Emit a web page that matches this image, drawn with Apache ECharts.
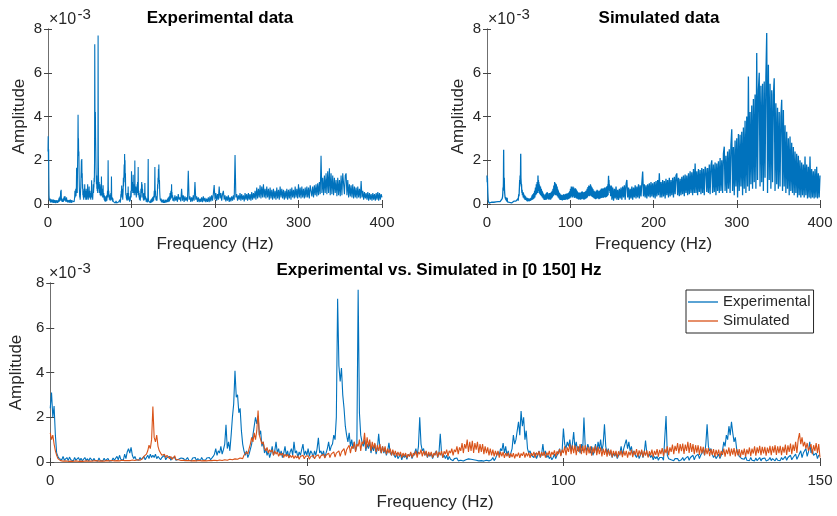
<!DOCTYPE html>
<html><head><meta charset="utf-8">
<script src="https://cdn.jsdelivr.net/npm/echarts@6/dist/echarts.min.js"></script>
<style>html,body{margin:0;padding:0;background:#fff}#c{width:837px;height:516px}</style>
</head><body><div id="c"></div>
<script>
// Amplitudes in units of 1e-3 (axis shows ×10^-3)
// Experimental spectrum, 0–149.75 Hz, 0.25 Hz resolution
const expLow = [
2.4,3.1,2.0,2.5, 1.2,0.4,0.25,0.15, 0.2,0.1,0.25,0.08, 0.15,0.2,0.06,0.22, 0.1,0.18,0.05,0.2,
0.08,0.15,0.2,0.06, 0.17,0.05,0.12,0.2, 0.06,0.15,0.04,0.18, 0.1,0.05,0.16,0.07, 0.14,0.04,0.18,0.06,
0.12,0.05,0.17,0.06, 0.1,0.16,0.05,0.12, 0.06,0.18,0.08,0.13, 0.25,0.1,0.3,0.12, 0.2,0.08,0.35,0.15,
0.45,0.6,0.4,0.65, 0.3,0.15,0.25,0.1, 0.18,0.08,0.2,0.1, 0.15,0.25,0.1,0.2, 0.3,0.15,0.35,0.2,
0.3,0.2,0.35,0.15, 0.25,0.3,0.1,0.2, 0.15,0.3,0.1,0.2, 0.12,0.25,0.08,0.18, 0.1,0.2,0.08,0.15,
0.12,0.06,0.18,0.1, 0.15,0.05,0.12,0.2, 0.08,0.15,0.06,0.18, 0.1,0.2,0.05,0.15, 0.12,0.06,0.2,0.1,
0.15,0.08,0.18,0.1, 0.2,0.1,0.15,0.25, 0.35,0.6,0.3,0.5, 0.4,0.7,0.35,0.55, 0.8,1.66,0.6,0.9,
0.5,1.2,2.0,2.6, 4.08,2.9,3.0,2.2, 2.4,1.4,0.8,0.5, 0.3,0.5,0.2,0.35, 0.4,0.8,1.2,1.6,
2.0,1.7,2.06,1.2, 1.4,0.7,0.9,0.4, 0.6,0.3,0.5,0.2, 0.4,0.7,0.3,0.5, 0.9,0.4,0.6,0.3,
0.5,0.2,0.4,0.7, 0.3,0.5,0.2,0.45, 0.6,0.3,0.9,0.4, 0.5,0.2,0.45,0.3, 0.55,0.8,0.3,0.5,
0.3,0.6,0.25,0.5, 0.4,0.2,0.5,0.3, 0.6,1.08,0.4,0.5, 0.3,0.5,0.2,0.4, 0.6,0.9,0.5,0.7,
0.8,1.2,1.0,2.0, 7.3,4.3,3.6,4.2, 3.0,2.4,1.6,1.2, 0.9,1.3,0.7,1.0, 0.6,0.9,0.5,0.7,
7.7,2.2,1.2,0.9, 0.7,1.0,0.5,0.8, 0.6,0.9,0.4,0.7, 0.5,0.8,0.35,0.6, 1.26,0.6,0.4,0.7,
0.4,0.6,0.3,0.5, 0.86,0.4,0.3,0.5, 0.3,0.2,0.4,0.15, 0.25,0.35,0.1,0.3, 0.2,0.3,0.12,0.35,
0.25,0.4,0.15,0.3, 0.4,0.6,0.3,0.7, 2.0,0.8,0.5,0.6, 0.3,0.45,0.2,0.35, 0.25,0.4,0.15,0.3,
0.3,0.5,0.2,0.4, 1.26,0.4,0.2,0.3, 0.15,0.3,0.1,0.25, 0.12,0.2,0.06,0.15, 0.1,0.18,0.05,0.12,
0.08,0.15,0.04,0.12, 0.1,0.05,0.14,0.06, 0.12,0.04,0.1,0.06, 0.08,0.13,0.05,0.1, 0.06,0.12,0.04,0.1,
0.08,0.15,0.05,0.12, 0.1,0.2,0.06,0.15, 0.2,0.45,0.3,0.6, 0.5,0.85,0.4,0.7, 0.3,0.5,0.2,0.4,
0.6,1.2,0.8,1.0, 1.4,1.8,1.2,2.28, 1.6,2.0,1.0,1.4, 0.6,0.4,0.5,0.3, 0.35,0.2,0.4,0.15,
0.3,0.5,0.2,0.35, 0.8,0.3,0.5,0.2, 0.3,0.15,0.25,0.1, 0.2,0.35,0.15,0.3, 0.4,0.6,0.3,0.5,
1.5,0.8,0.6,0.9, 0.7,1.0,0.5,0.8, 1.34,0.6,0.9,0.5, 0.7,0.4,0.8,0.5, 1.99,0.7,0.5,0.8,
0.6,0.4,0.7,0.3, 0.5,0.8,0.4,0.9, 0.6,1.0,0.5,0.8, 1.69,0.7,0.4,0.6, 0.3,0.5,0.2,0.4,
0.25,0.4,0.15,0.3, 0.4,0.7,0.3,0.6, 0.8,1.0,0.6,0.9, 0.5,0.7,0.3,0.5, 0.3,0.2,0.4,0.15,
0.3,0.5,0.2,0.4, 0.96,0.4,0.25,0.35, 0.2,0.3,0.1,0.25, 0.15,0.25,0.08,0.2, 0.12,0.2,0.08,0.15,
2.06,0.3,0.15,0.2, 0.1,0.18,0.06,0.15, 0.08,0.15,0.05,0.12, 0.1,0.2,0.06,0.15, 0.12,0.25,0.08,0.2,
0.15,0.3,0.1,0.25, 0.2,0.35,0.15,0.3, 0.4,0.6,0.3,0.8, 1.69,0.7,0.5,0.6, 0.35,0.2,0.3,0.15,
0.2,0.35,0.15,0.3, 0.5,0.9,0.7,1.2, 1.0,1.6,1.2,1.8, 1.3,0.9,1.1,0.6, 0.4,0.25,0.3,0.15,
0.2,0.12,0.25,0.08, 0.15,0.06,0.2,0.08, 0.12,0.05,0.18,0.06, 0.1,0.2,0.05,0.15, 0.08,0.18,0.05,0.12,
0.1,0.2,0.06,0.15, 0.12,0.05,0.18,0.08, 0.15,0.06,0.2,0.1, 0.12,0.25,0.08,0.2, 0.15,0.3,0.1,0.2,
0.2,0.35,0.12,0.25, 0.3,0.5,0.2,0.4, 0.35,0.6,0.25,0.45, 0.9,0.4,0.55,0.3, 0.25,0.4,0.15,0.3
];
// Experimental spectrum, 150–400 Hz, 1 Hz resolution
const expHigh = [
0.3,0.12,0.4,0.15,0.35,0.1,0.45,0.2,0.3,0.12,
0.7,0.15,0.4,0.1,0.35,0.15,0.3,0.12,1.52,0.2,
0.35,0.1,0.3,0.12,0.4,0.15,1.0,0.2,0.35,0.1,
0.3,0.08,0.25,0.1,0.3,0.08,0.35,0.12,0.28,0.08,
0.25,0.1,0.3,0.08,0.35,0.12,0.4,0.15,0.45,0.87,
0.2,0.5,0.15,0.45,0.2,0.8,0.25,0.5,0.15,0.45,
0.6,0.2,0.4,0.12,0.35,0.15,0.4,0.1,0.3,0.12,
0.35,0.15,0.4,0.2,2.24,0.3,0.45,0.15,0.4,0.2,
0.5,0.15,0.45,0.2,0.4,0.12,0.5,0.2,0.45,0.15,
0.5,0.2,0.45,0.15,0.55,0.2,0.5,0.25,0.6,0.2,
0.75,0.25,0.7,0.3,0.85,0.25,0.8,0.3,0.9,0.3,
0.7,0.25,0.8,0.3,0.7,0.2,0.75,0.25,0.65,0.2,
0.7,0.25,0.6,0.2,0.75,0.25,0.65,0.2,0.8,0.3,
0.7,0.25,0.65,0.2,0.6,0.25,0.7,0.2,0.65,0.25,
0.7,0.2,0.75,0.3,0.65,0.25,0.8,0.3,0.7,0.25,
0.9,0.3,0.75,0.25,0.8,0.3,0.7,0.25,0.75,0.3,
0.8,0.3,0.75,0.25,0.85,0.9,0.35,0.8,0.3,0.85,
0.4,0.9,0.35,0.95,0.4,1.0,0.45,2.2,0.5,1.2,
0.4,1.3,0.5,1.4,0.45,1.5,0.5,1.63,0.4,1.4,
0.45,1.3,0.4,1.2,0.5,1.1,0.35,1.2,0.4,1.1,
0.35,1.3,0.4,1.4,1.48,0.45,1.3,1.4,0.4,1.1,
0.3,0.9,0.35,0.85,0.3,0.9,0.25,0.8,0.3,0.75,
0.25,0.8,0.3,0.7,0.25,1.05,0.3,0.6,0.2,0.55,
0.25,0.5,0.2,0.55,0.15,0.5,0.2,0.45,0.15,0.5,
0.2,0.45,0.15,0.5,0.2,0.55,0.15,0.5,0.2,0.45,
0.3
];
// Simulated spectrum, 0–149.75 Hz, 0.25 Hz resolution
const simLow = [
1.3,1.0,1.2,0.8, 0.5,0.3,0.15,0.1, 0.06,0.1,0.04,0.08, 0.05,0.09,0.03,0.07, 0.04,0.08,0.03,0.06,
0.05,0.08,0.03,0.07, 0.04,0.09,0.03,0.06, 0.05,0.1,0.04,0.07, 0.04,0.08,0.05,0.1, 0.06,0.1,0.04,0.08,
0.05,0.09,0.04,0.1, 0.06,0.1,0.05,0.08, 0.07,0.12,0.05,0.1, 0.06,0.11,0.05,0.09, 0.08,0.12,0.06,0.1,
0.07,0.13,0.06,0.11, 0.09,0.14,0.07,0.12, 0.1,0.16,0.08,0.14, 0.15,0.25,0.2,0.35, 0.5,0.75,0.6,1.0,
2.48,1.1,0.9,1.2, 0.7,0.5,0.4,0.3, 0.25,0.35,0.2,0.3, 0.32,0.15,0.25,0.12, 0.2,0.28,0.1,0.15,
0.1,0.16,0.07,0.12, 0.08,0.14,0.06,0.11, 0.07,0.12,0.05,0.1, 0.06,0.11,0.05,0.09, 0.07,0.12,0.05,0.1,
0.06,0.11,0.05,0.1, 0.07,0.12,0.06,0.1, 0.08,0.13,0.06,0.11, 0.09,0.14,0.07,0.12, 0.1,0.15,0.08,0.13,
0.12,0.18,0.1,0.16, 0.14,0.2,0.12,0.18, 0.18,0.25,0.15,0.3, 0.3,0.45,0.35,0.6, 0.8,1.1,0.9,1.3,
1.0,1.4,2.3,1.2, 1.0,0.8,0.9,0.6, 0.5,0.65,0.4,0.55, 0.45,0.55,0.3,0.5, 0.35,0.45,0.25,0.4,
0.3,0.4,0.2,0.35, 0.25,0.35,0.18,0.3, 0.2,0.3,0.15,0.28, 0.18,0.28,0.12,0.25, 0.2,0.3,0.14,0.26,
0.18,0.28,0.12,0.24, 0.2,0.3,0.14,0.26, 0.22,0.32,0.15,0.28, 0.25,0.35,0.18,0.3, 0.28,0.4,0.2,0.35,
0.3,0.45,0.22,0.4, 0.35,0.5,0.25,0.45, 0.4,0.6,0.3,0.55, 0.5,0.75,0.4,0.7, 0.6,0.9,0.45,0.8,
0.7,1.0,0.5,0.9, 0.8,1.3,0.6,1.1, 0.7,1.0,0.5,0.9, 0.6,0.85,0.45,0.75, 0.5,0.8,0.4,0.7,
0.45,0.7,0.35,0.6, 0.4,0.6,0.3,0.55, 0.3,0.5,0.25,0.45, 0.28,0.45,0.2,0.4, 0.25,0.4,0.18,0.35,
0.25,0.45,0.2,0.4, 0.3,0.5,0.2,0.45, 0.35,0.55,0.25,0.5, 0.3,0.5,0.22,0.45, 0.28,0.45,0.2,0.4,
0.3,0.5,0.22,0.45, 0.3,0.5,0.2,0.48, 0.35,0.55,0.25,0.5, 0.4,0.6,0.3,0.55, 0.45,0.7,0.35,0.65,
0.5,0.85,0.4,0.8, 0.6,1.0,0.45,0.9, 0.5,0.95,0.4,0.85, 0.55,0.9,0.4,0.8, 0.45,0.8,0.35,0.7,
0.4,0.65,0.3,0.6, 0.3,0.55,0.25,0.5, 0.28,0.5,0.2,0.45, 0.25,0.45,0.18,0.4, 0.25,0.42,0.18,0.38,
0.22,0.4,0.16,0.36, 0.25,0.42,0.18,0.38, 0.28,0.45,0.2,0.4, 0.25,0.42,0.18,0.4, 0.28,0.45,0.2,0.42,
0.3,0.48,0.22,0.44, 0.28,0.46,0.2,0.42, 0.3,0.5,0.22,0.45, 0.32,0.52,0.24,0.48, 0.35,0.58,0.26,0.55,
0.4,0.7,0.3,0.65, 0.45,0.8,0.35,0.75, 0.4,0.75,0.3,0.7, 0.45,0.8,0.35,0.72, 0.4,0.75,0.3,0.68,
0.38,0.7,0.28,0.65, 0.4,0.72,0.3,0.68, 0.35,0.65,0.25,0.6, 0.32,0.6,0.24,0.55, 0.3,0.55,0.22,0.5,
0.28,0.5,0.2,0.48, 0.3,0.52,0.22,0.5, 0.28,0.5,0.2,0.46, 0.3,0.55,0.22,0.5, 0.32,0.58,0.24,0.52,
0.3,0.55,0.22,0.5, 0.28,0.52,0.2,0.48, 0.3,0.55,0.22,0.5, 0.32,0.58,0.24,0.54, 0.35,0.62,0.26,0.58,
0.4,0.7,0.3,0.65, 0.45,0.78,0.35,0.72, 0.5,0.85,0.38,0.8, 0.48,0.82,0.36,0.78, 0.5,0.9,0.4,0.85,
0.45,0.8,0.35,0.75, 0.42,0.75,0.32,0.7, 0.38,0.68,0.3,0.62, 0.35,0.62,0.26,0.58, 0.32,0.58,0.24,0.54,
0.3,0.55,0.22,0.5, 0.32,0.6,0.24,0.55, 0.35,0.65,0.26,0.6, 0.33,0.62,0.25,0.58, 0.3,0.58,0.22,0.54,
0.32,0.6,0.24,0.56, 0.35,0.65,0.26,0.6, 0.38,0.7,0.28,0.65, 0.4,0.72,0.3,0.68, 0.38,0.68,0.28,0.64,
0.4,0.72,0.3,0.7, 0.42,0.75,0.32,0.7, 0.4,0.72,0.3,0.68, 0.42,0.78,0.32,0.74, 0.45,0.82,0.35,0.78,
0.5,0.9,0.4,1.0, 1.29,0.8,1.1,0.7, 0.9,0.6,0.85,0.5, 0.45,0.8,0.35,0.75, 0.5,0.85,0.4,0.8
];
// Simulated spectrum, 150–400 Hz, 1 Hz resolution
const simHigh = [
0.2,0.75,0.15,0.7,0.25,0.8,0.2,0.65,0.18,0.7,
0.25,0.75,0.2,0.8,0.3,0.85,0.2,0.9,1.1,0.3,
0.75,0.2,0.7,0.25,0.8,0.2,0.75,0.3,0.85,0.25,
0.8,0.3,0.9,0.25,0.85,0.35,0.95,1.48,0.35,0.9,
0.3,0.85,0.25,0.9,0.35,0.95,0.3,1.0,0.35,0.95,
0.3,1.0,0.25,1.05,0.35,1.1,0.4,1.4,0.3,1.0,
0.3,1.1,0.35,1.05,0.25,1.15,0.4,1.1,0.3,1.2,
0.35,1.1,0.4,1.2,0.3,1.25,0.45,1.3,1.4,0.4,
1.2,0.35,1.15,0.4,1.25,0.45,1.3,0.35,1.35,0.5,
1.3,0.4,1.4,0.45,1.5,0.5,1.45,0.4,1.6,0.5,
1.85,0.5,1.5,0.4,1.6,0.55,1.55,0.45,1.65,0.5,
1.6,0.4,1.7,1.6,0.55,1.65,0.5,1.8,0.45,1.75,
2.0,0.5,1.8,0.55,1.9,0.4,1.85,0.6,1.95,0.5,
2.1,0.6,2.0,0.5,2.3,2.62,0.6,2.2,0.5,2.4,
0.7,2.5,0.5,2.7,3.42,0.6,2.6,0.4,2.9,0.8,
3.0,0.3,3.2,0.6,3.16,0.8,3.3,0.4,3.5,0.7,
3.8,0.5,4.0,0.8,5.83,0.6,4.2,0.9,4.5,0.7,
4.8,1.0,5.0,0.7,6.9,1.1,5.2,6.0,0.8,5.4,
1.0,5.5,0.6,5.6,1.2,5.8,7.82,0.5,6.36,1.1,
5.5,0.7,5.2,1.0,5.0,5.75,0.6,4.6,0.9,4.4,
0.7,4.2,0.8,4.0,4.76,0.6,4.3,0.8,3.6,0.5,
3.3,0.7,3.0,0.4,3.08,0.6,2.8,0.5,2.6,0.4,
2.4,0.5,2.3,0.3,2.2,0.4,2.0,0.3,1.9,0.4,
1.8,0.3,2.17,0.4,1.8,0.25,1.7,0.3,2.17,0.25,
1.6,0.3,1.5,0.25,1.6,0.3,1.7,0.25,1.4,0.3,
1.3
];
const titles = ['Experimental data', 'Simulated data', 'Experimental vs. Simulated in [0 150] Hz'];
const seriesNames = ['Experimental', 'Simulated'];
const xLabel = 'Frequency (Hz)';
const yLabel = 'Amplitude';
const yTicks = [0, 2, 4, 6, 8];

function toPairs(start, step, vals) { return vals.map((v, i) => [start + i * step, v]); }
const expData = toPairs(0, 0.25, expLow).concat(toPairs(150, 1, expHigh));
const simData = toPairs(0, 0.25, simLow).concat(toPairs(150, 1, simHigh));

const FONT = 'Liberation Sans, Arial, Helvetica, sans-serif';
const TXT = '#262626';
const BLUE = '#0072BD', ORANGE = '#D95319';
const grids = [
  {left: 48, top: 29, width: 334, height: 175},
  {left: 487, top: 29, width: 333, height: 175},
  {left: 48, top: 283, width: 772, height: 179}
];
const xMax = [400, 400, 150], xInt = [100, 100, 50];
const boxLine = {show: true, lineStyle: {color: '#6f6f6f', width: 1}};
const tick = {show: true, inside: true, length: 4, lineStyle: {color: '#444', width: 1}};
const xAxes = [], yAxes = [];
grids.forEach((g, i) => {
  xAxes.push({gridIndex: i, type: 'value', min: 0, max: xMax[i], interval: xInt[i], position: 'bottom',
    axisLine: boxLine, axisTick: tick, splitLine: {show: false},
    axisLabel: {color: TXT, fontSize: 15, fontFamily: FONT, margin: 11},
    name: xLabel, nameLocation: 'middle', nameGap: 32,
    nameTextStyle: {color: TXT, fontSize: 17, fontFamily: FONT}});
  xAxes.push({gridIndex: i, type: 'value', min: 0, max: xMax[i], interval: xInt[i], position: 'top',
    axisLine: boxLine, axisTick: tick, splitLine: {show: false}, axisLabel: {show: false}});
  yAxes.push({gridIndex: i, type: 'value', min: yTicks[0], max: yTicks[yTicks.length - 1], interval: 2, position: 'left',
    axisLine: boxLine, axisTick: tick, splitLine: {show: false},
    axisLabel: {color: TXT, fontSize: 15, fontFamily: FONT, margin: 6},
    name: yLabel, nameLocation: 'middle', nameGap: 20,
    nameTextStyle: {color: TXT, fontSize: 17, fontFamily: FONT}});
  yAxes.push({gridIndex: i, type: 'value', min: 0, max: 8, interval: 2, position: 'right',
    axisLine: boxLine, axisTick: tick, splitLine: {show: false}, axisLabel: {show: false}});
});
function line(name, data, color, gi, w) {
  return {name: name, type: 'line', data: data, xAxisIndex: gi * 2, yAxisIndex: gi * 2,
    showSymbol: false, symbol: 'none', clip: true, animation: false,
    lineStyle: {color: color, width: w, join: 'bevel'}, itemStyle: {color: color}};
}
const expoLabels = [];
[[49, 29], [488, 29], [49, 283]].forEach(p => {
  expoLabels.push({type: 'text', x: p[0], y: p[1] - 9.5, style: {text: '×10', fill: TXT, fontSize: 16, fontFamily: FONT, verticalAlign: 'middle'}});
  expoLabels.push({type: 'text', x: p[0] + 28.5, y: p[1] - 14, style: {text: '-3', fill: TXT, fontSize: 15, fontFamily: FONT, verticalAlign: 'middle'}});
});
const option = {
  animation: false,
  backgroundColor: '#fff',
  title: [
    {text: titles[0], left: 215, top: 5, textAlign: 'center', textStyle: {color: '#000', fontSize: 17, fontWeight: 'bold', fontFamily: FONT}},
    {text: titles[1], left: 654, top: 5, textAlign: 'center', textStyle: {color: '#000', fontSize: 17, fontWeight: 'bold', fontFamily: FONT}},
    {text: titles[2], left: 434, top: 257, textAlign: 'center', textStyle: {color: '#000', fontSize: 17, fontWeight: 'bold', fontFamily: FONT}}
  ],
  legend: {data: seriesNames.map(n => ({name: n, icon: 'rect'})), orient: 'vertical', left: 686, top: 290, padding: [4, 3, 4, 2], itemGap: 3,
    itemWidth: 30, itemHeight: 1.3, backgroundColor: '#fff', borderColor: '#262626', borderWidth: 1,
    textStyle: {color: TXT, fontSize: 15, fontFamily: FONT, lineHeight: 16}},
  grid: grids,
  xAxis: xAxes,
  yAxis: yAxes,
  graphic: expoLabels,
  series: [
    line('exp_full', expData, BLUE, 0, 1.1),
    line('sim_full', simData, BLUE, 1, 1.3),
    line(seriesNames[0], expData.filter(d => d[0] <= 150), BLUE, 2, 1.1),
    line(seriesNames[1], simData.filter(d => d[0] <= 150), ORANGE, 2, 1.1)
  ]
};
const chart = echarts.init(document.getElementById('c'), null, {renderer: 'canvas'});
chart.setOption(option);
</script>
</body></html>
